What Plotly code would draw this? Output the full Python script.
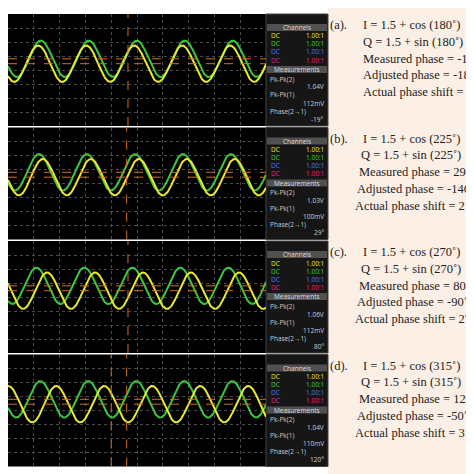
import numpy as np
import plotly.graph_objects as go

W = H = 474
labels = ['(a).', '(b).', '(c).', '(d).']
angles = [180, 225, 270, 315]
measured = ['-19°', '29°', '80°', '120°']
adjusted = ['-189°', '-146°', '-90°', '-50°']
actual = ['171°', '214°', '270°', '310°']
phase_deg = [-19, 29, 80, 120]
pkpk2 = ['1.04V', '1.03V', '1.06V', '1.04V']
pkpk1 = ['112mV', '100mV', '112mV', '110mV']
green_peak = [1.27, 1.2, 1.1, 1.25]   # first green peak, in divisions
cursor_x = [[4.65], [4.6], [4.65], [4.0, 4.6]]
period = 1.86
amp = 1.3
green_off, yellow_off = 0.8, 0.45

def px(x):
    return x / W

def py(y):
    return 1 - y / H

fig = go.Figure()
shapes, ann = [], []
shapes.append(dict(type='rect', xref='paper', yref='paper', x0=px(320), x1=1, y0=0, y1=1,
                   fillcolor='#fcf0e6', line_width=0, layer='below'))

t = np.linspace(0, 10, 600)
for i in range(4):
    top = 6 + 113.5 * i
    bot = top + 112
    n = str(i + 1) if i else ''
    # scope screen
    shapes.append(dict(type='rect', xref='paper', yref='paper', x0=0, x1=px(258), y0=py(bot), y1=py(top),
                       fillcolor='black', line_width=0, layer='below'))
    g = green_off + amp * np.sin(2 * np.pi * (t - green_peak[i]) / period + np.pi / 2)
    yl = yellow_off + amp * np.sin(2 * np.pi * (t - green_peak[i]) / period + np.pi / 2 - np.radians(phase_deg[i]))
    fig.add_trace(go.Scatter(x=t, y=g, mode='lines', line=dict(color='#3cc83c', width=2),
                             xaxis='x' + n, yaxis='y' + n, showlegend=False))
    fig.add_trace(go.Scatter(x=t, y=yl, mode='lines', line=dict(color='#e8e830', width=2),
                             xaxis='x' + n, yaxis='y' + n, showlegend=False))
    for off in (green_off, yellow_off):
        shapes.append(dict(type='line', xref='x' + n, yref='y' + n, x0=0, x1=10, y0=off, y1=off,
                           line=dict(color='#d07020', width=1, dash='dash')))
    for cx in cursor_x[i]:
        shapes.append(dict(type='line', xref='x' + n, yref='y' + n, x0=cx, x1=cx, y0=-4, y1=4,
                           line=dict(color='#d07020', width=1, dash='dash')))
    ax = dict(domain=[0, px(258)], range=[0, 10], dtick=1, showgrid=True, gridcolor='#4a4a4a',
              griddash='dot', showticklabels=False, zeroline=False, anchor='y' + n)
    ay = dict(domain=[py(bot), py(top)], range=[-4, 4], dtick=1, showgrid=True, gridcolor='#4a4a4a',
              griddash='dot', showticklabels=False, zeroline=False, anchor='x' + n)
    fig.update_layout(**{'xaxis' + n: ax, 'yaxis' + n: ay})

    # side panel
    shapes.append(dict(type='rect', xref='paper', yref='paper', x0=px(258), x1=px(320), y0=py(bot), y1=py(top),
                       fillcolor='#161616', line=dict(color='#444', width=1), layer='below'))
    for hy, txt in ((top + 10, 'Channels'), (top + 52, 'Measurements')):
        shapes.append(dict(type='rect', xref='paper', yref='paper', x0=px(259), x1=px(319),
                           y0=py(hy + 7), y1=py(hy), fillcolor='#505050', line_width=0))
        ann.append(dict(x=px(289), y=py(hy + 3.5), text=txt, font=dict(size=6.5, color='#ddd')))
    for k, c in enumerate(['#e8e830', '#3cc83c', '#5070ff', '#e0208a']):
        yy = py(top + 22 + 8 * k)
        ann.append(dict(x=px(261), y=yy, text='DC', xanchor='left', font=dict(size=6.5, color=c)))
        ann.append(dict(x=px(318), y=yy, text='1.00:1', xanchor='right', font=dict(size=6.5, color=c)))
    rows = [('Pk-Pk(2)', pkpk2[i]), ('Pk-Pk(1)', pkpk1[i]), ('Phase(2→1)', measured[i])]
    for k, (lab, val) in enumerate(rows):
        ann.append(dict(x=px(260), y=py(top + 65 + 16 * k), text=lab, xanchor='left',
                        font=dict(size=6.5, color='#ccc')))
        ann.append(dict(x=px(318), y=py(top + 73 + 16 * k), text=val, xanchor='right',
                        font=dict(size=6.5, color='#ccc')))

    # text block
    lines = ['I = 1.5 + cos (%d˚)' % angles[i], 'Q = 1.5 + sin (%d˚)' % angles[i],
             'Measured phase = ' + measured[i].replace('°', '˚'),
             'Adjusted phase = ' + adjusted[i].replace('°', '˚'),
             'Actual phase shift = ' + actual[i].replace('°', '˚')]
    ann.append(dict(x=px(320), y=py(top + 11), text=labels[i], xanchor='left',
                    font=dict(family='Liberation Serif', size=12.5, color='#222')))
    for k, s in enumerate(lines):
        ann.append(dict(x=px(353 - (2 * k if i else 0)), y=py(top + 11 + 16.8 * k), text=s, xanchor='left',
                        font=dict(family='Liberation Serif', size=12.5, color='#222')))

for a in ann:
    a.update(xref='paper', yref='paper', showarrow=False, yanchor='middle')
    a.setdefault('xanchor', 'center')

fig.update_layout(width=W, height=H, margin=dict(l=0, r=0, t=0, b=0), paper_bgcolor='white',
                  plot_bgcolor='rgba(0,0,0,0)', shapes=shapes, annotations=ann)
fig.write_html("out.html")
